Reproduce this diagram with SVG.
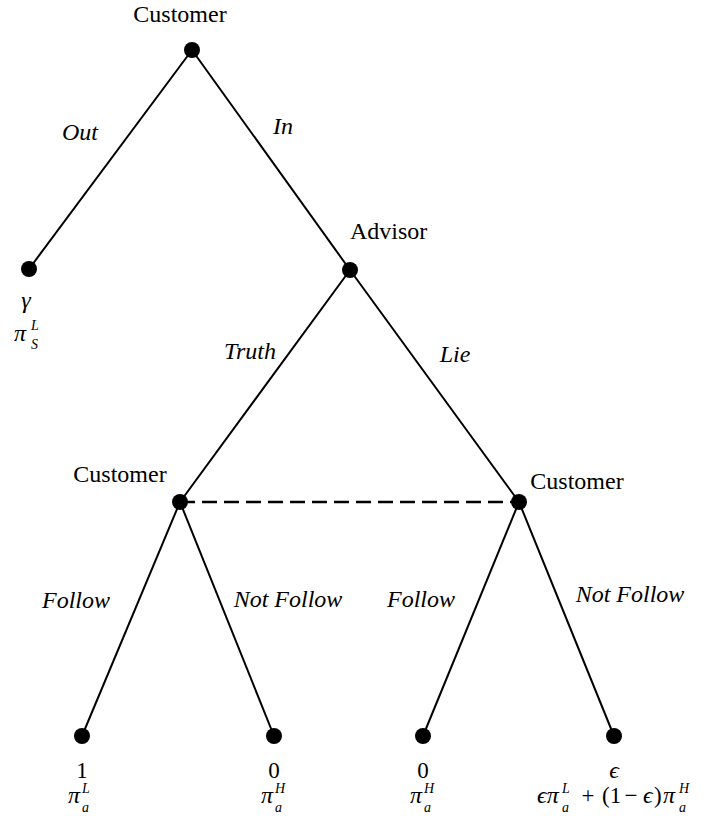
<svg xmlns="http://www.w3.org/2000/svg" width="710" height="816" viewBox="0 0 710 816">
<style>
text{font-family:'Liberation Serif','Times New Roman',Times,'DejaVu Serif',serif;fill:#000}
.e{stroke:#000;stroke-width:2;fill:none}
.d{stroke:#000;stroke-width:2.5;stroke-dasharray:15 7;fill:none}
.n{fill:#000}
.t{font-size:24px}
.i{font-size:24px;font-style:italic}
.m{font-size:23px}
.v{font-size:24px;font-style:italic}
.s{font-size:14px;font-style:italic}
</style>
<rect width="710" height="816" fill="#fff"/>
<g id="connectors">
<line class="e" x1="192" y1="50" x2="29" y2="269"/>
<line class="e" x1="192" y1="50" x2="350" y2="270"/>
<line class="e" x1="350" y1="270" x2="180" y2="502"/>
<line class="e" x1="350" y1="270" x2="519" y2="502"/>
<line class="d" x1="180" y1="502" x2="519" y2="502"/>
<line class="e" x1="180" y1="502" x2="82" y2="736"/>
<line class="e" x1="180" y1="502" x2="274" y2="736"/>
<line class="e" x1="519" y1="502" x2="423" y2="736"/>
<line class="e" x1="519" y1="502" x2="614" y2="736"/>
<text class="i" x="80" y="140" text-anchor="middle">Out</text>
<text class="i" x="283" y="134" text-anchor="middle">In</text>
<text class="i" x="250" y="359" text-anchor="middle">Truth</text>
<text class="i" x="455" y="362" text-anchor="middle">Lie</text>
<text class="i" x="76" y="608" text-anchor="middle">Follow</text>
<text class="i" x="288" y="607" text-anchor="middle">Not Follow</text>
<text class="i" x="421" y="607" text-anchor="middle">Follow</text>
<text class="i" x="630" y="602" text-anchor="middle">Not Follow</text>
</g>
<g id="root">
<circle class="n" cx="192" cy="50" r="8"/>
<text class="t" x="180" y="22" text-anchor="middle">Customer</text>
</g>
<g id="out-leaf">
<circle class="n" cx="29" cy="269" r="8"/>
<text class="v" x="26" y="308" text-anchor="middle">γ</text>
<text class="v" x="14" y="341">π</text>
<text class="s" x="31" y="330">L</text>
<text class="s" x="31" y="349">S</text>
</g>
<g id="advisor">
<circle class="n" cx="350" cy="270" r="8"/>
<text class="t" x="350" y="239">Advisor</text>
</g>
<g id="customer-left">
<circle class="n" cx="180" cy="502" r="8"/>
<text class="t" x="120" y="482" text-anchor="middle">Customer</text>
</g>
<g id="customer-right">
<circle class="n" cx="519" cy="502" r="8"/>
<text class="t" x="577" y="489" text-anchor="middle">Customer</text>
</g>
<g id="leaf-follow-truth">
<circle class="n" cx="82" cy="736" r="8"/>
<text class="m" x="82" y="778" text-anchor="middle">1</text>
<text class="v" x="68" y="803">π</text>
<text class="s" x="82" y="793">L</text>
<text class="s" x="82" y="812">a</text>
</g>
<g id="leaf-notfollow-truth">
<circle class="n" cx="274" cy="736" r="8"/>
<text class="m" x="274" y="778" text-anchor="middle">0</text>
<text class="v" x="261" y="803">π</text>
<text class="s" x="275" y="793">H</text>
<text class="s" x="275" y="812">a</text>
</g>
<g id="leaf-follow-lie">
<circle class="n" cx="423" cy="736" r="8"/>
<text class="m" x="423" y="778" text-anchor="middle">0</text>
<text class="v" x="410" y="803">π</text>
<text class="s" x="424" y="793">H</text>
<text class="s" x="424" y="812">a</text>
</g>
<g id="leaf-notfollow-lie">
<circle class="n" cx="614" cy="736" r="8"/>
<text class="v" x="614" y="778" text-anchor="middle">ϵ</text>
<text class="v" x="537" y="803">ϵπ</text>
<text class="s" x="562" y="793">L</text>
<text class="s" x="562" y="812">a</text>
<text class="m" x="588" y="803" text-anchor="middle">+</text>
<text class="m" x="602" y="803">(1</text>
<text class="m" x="631" y="803" text-anchor="middle">−</text>
<text class="v" x="643" y="803">ϵ</text>
<text class="m" x="654" y="803">)</text>
<text class="v" x="663" y="803">π</text>
<text class="s" x="679" y="793">H</text>
<text class="s" x="679" y="812">a</text>
</g>
</svg>
